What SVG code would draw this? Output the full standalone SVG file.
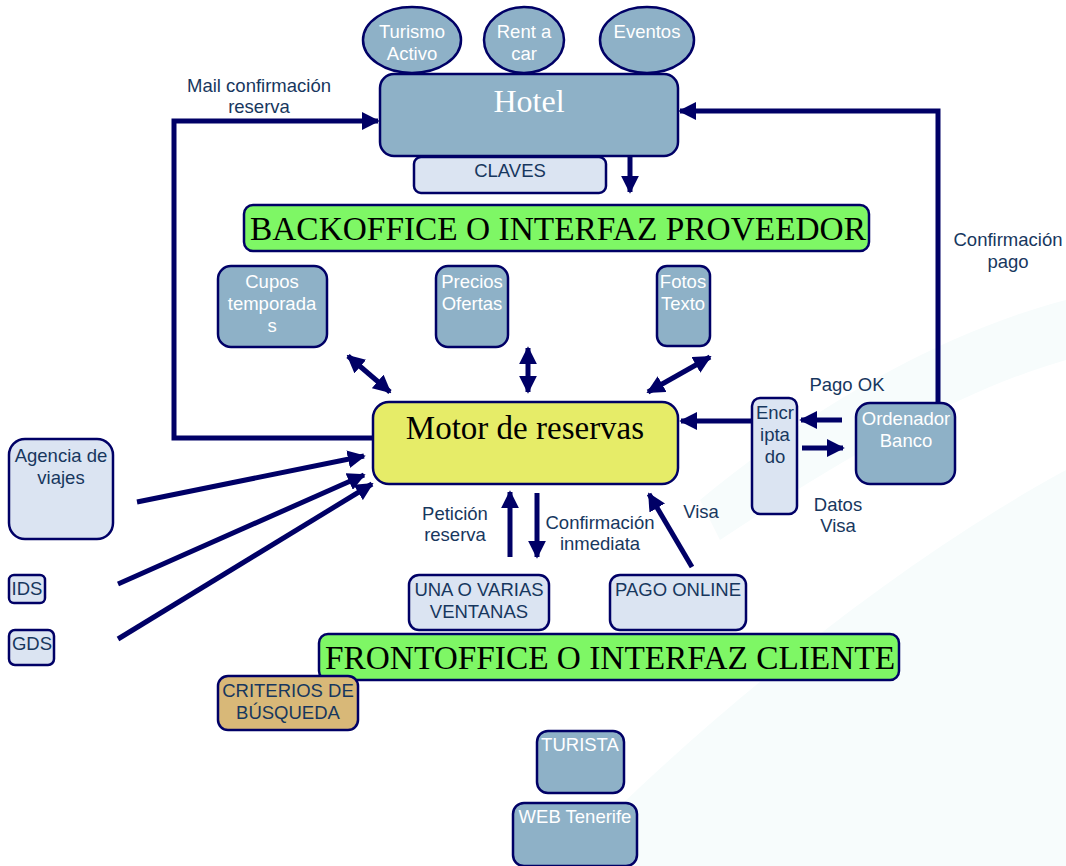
<svg xmlns="http://www.w3.org/2000/svg" width="1066" height="866" viewBox="0 0 1066 866">
<defs>
<marker id="ah" viewBox="0 0 10 10" refX="9" refY="5" markerWidth="18" markerHeight="18" markerUnits="userSpaceOnUse" orient="auto-start-reverse">
<path d="M0,0 L10,5 L0,10 Z" fill="#000066"/>
</marker>
</defs>
<style>
.bg{fill:#f7fcfc}
.dark{fill:#8eb1c7;stroke:#000066;stroke-width:2.5}
.light{fill:#dbe4f2;stroke:#000066;stroke-width:2.5}
.green{fill:#7ef765;stroke:#000066;stroke-width:2.5}
.yellow{fill:#e6ec68;stroke:#000066;stroke-width:2.5}
.tan{fill:#d8b878;stroke:#000066;stroke-width:2.5}
.w{font-family:"Liberation Sans",Arial,sans-serif;font-size:18.5px;fill:#ffffff;text-anchor:middle}
.n{font-family:"Liberation Sans",Arial,sans-serif;font-size:18.5px;fill:#17375e;text-anchor:middle}
.big{font-family:"Liberation Serif","Times New Roman",serif;font-size:34px;fill:#000000;text-anchor:middle}
.conn{stroke:#000066;stroke-width:5;fill:none}
</style>
<rect width="1066" height="866" fill="#ffffff"/>
<path class="bg" d="M560,866 C700,720 900,560 1066,470 L1066,866 Z"/>
<path class="bg" d="M700,500 C820,400 950,330 1066,300 L1066,360 C960,390 840,460 720,540 Z"/>

<g id="turismo-activo"><ellipse class="dark" cx="412" cy="40" rx="49" ry="33"/><text class="w" x="412" y="38">Turismo</text><text class="w" x="412" y="60">Activo</text></g>
<g id="rent-a-car"><ellipse class="dark" cx="524" cy="40" rx="40" ry="33"/><text class="w" x="524" y="38">Rent a</text><text class="w" x="524" y="60">car</text></g>
<g id="eventos"><ellipse class="dark" cx="647" cy="40" rx="47" ry="33"/><text class="w" x="647" y="38">Eventos</text></g>

<g id="hotel"><rect class="dark" x="380" y="74" width="298" height="82" rx="14"/><text x="529" y="112" font-family="'Liberation Serif','Times New Roman',serif" font-size="32" fill="#ffffff" text-anchor="middle">Hotel</text></g>
<g id="claves"><rect class="light" x="414" y="157" width="192" height="36" rx="7"/><text class="n" x="510" y="177">CLAVES</text></g>

<g id="backoffice"><rect class="green" x="244" y="205" width="625" height="46" rx="9"/><text class="big" x="558" y="240" textLength="616" lengthAdjust="spacingAndGlyphs">BACKOFFICE O INTERFAZ PROVEEDOR</text></g>

<g id="cupos"><rect class="dark" x="218" y="266" width="109" height="81" rx="13"/><text class="w" x="272" y="288">Cupos</text><text class="w" x="272" y="310">temporada</text><text class="w" x="272" y="332">s</text></g>
<g id="precios"><rect class="dark" x="436" y="266" width="72" height="81" rx="12"/><text class="w" x="472" y="288">Precios</text><text class="w" x="472" y="310">Ofertas</text></g>
<g id="fotos"><rect class="dark" x="657" y="266" width="53" height="80" rx="10"/><text class="w" x="683" y="288">Fotos</text><text class="w" x="683" y="310">Texto</text></g>

<g id="motor"><rect class="yellow" x="373" y="402" width="305" height="82" rx="16"/><text x="525" y="439" font-family="'Liberation Serif','Times New Roman',serif" font-size="33" fill="#000000" text-anchor="middle">Motor de reservas</text></g>

<g id="encriptado"><rect class="light" x="752" y="398" width="45" height="116" rx="8"/><text class="n" x="775" y="419">Encr</text><text class="n" x="775" y="441">ipta</text><text class="n" x="775" y="463">do</text></g>
<g id="ordenador"><rect class="dark" x="856" y="403" width="99" height="81" rx="14"/><text class="w" x="906" y="425">Ordenador</text><text class="w" x="906" y="447">Banco</text></g>

<g id="agencia"><rect class="light" x="9" y="439" width="104" height="100" rx="16"/><text class="n" x="61" y="462">Agencia de</text><text class="n" x="61" y="484">viajes</text></g>
<g id="ids"><rect class="light" x="9" y="575" width="36" height="28" rx="5"/><text class="n" x="27" y="595">IDS</text></g>
<g id="gds"><rect class="light" x="9" y="630" width="45" height="35" rx="6"/><text class="n" x="32" y="650">GDS</text></g>

<g id="ventanas"><rect class="light" x="409" y="575" width="140" height="55" rx="10"/><text class="n" x="479" y="596">UNA O VARIAS</text><text class="n" x="479" y="618">VENTANAS</text></g>
<g id="pago-online"><rect class="light" x="610" y="575" width="136" height="55" rx="10"/><text class="n" x="678" y="596">PAGO ONLINE</text></g>

<g id="frontoffice"><rect class="green" x="319" y="634" width="580" height="46" rx="9"/><text class="big" x="610" y="669" textLength="570" lengthAdjust="spacingAndGlyphs">FRONTOFFICE O INTERFAZ CLIENTE</text></g>
<g id="criterios"><rect class="tan" x="218" y="676" width="140" height="54" rx="10"/><text class="n" x="288" y="697">CRITERIOS DE</text><text class="n" x="288" y="719">BÚSQUEDA</text></g>

<g id="turista"><rect class="dark" x="537" y="731" width="87" height="62" rx="11"/><text class="w" x="580" y="751">TURISTA</text></g>
<g id="web-tenerife"><rect class="dark" x="513" y="803" width="124" height="63" rx="11"/><text class="w" x="575" y="823">WEB Tenerife</text></g>

<g id="connectors">
<path class="conn" d="M630,157 L630,192" marker-end="url(#ah)"/>
<path class="conn" d="M373,438 L174,438 L174,121 L378,121" marker-end="url(#ah)"/>
<path class="conn" d="M938,403 L938,111 L680,111" marker-end="url(#ah)"/>
<path class="conn" d="M348,356 L390,392" marker-start="url(#ah)" marker-end="url(#ah)"/>
<path class="conn" d="M528,348 L528,392" marker-start="url(#ah)" marker-end="url(#ah)"/>
<path class="conn" d="M710,357 L648,392" marker-start="url(#ah)" marker-end="url(#ah)"/>
<path class="conn" d="M752,421 L681,421" marker-end="url(#ah)"/>
<path class="conn" d="M842,420 L801,420" marker-end="url(#ah)"/>
<path class="conn" d="M802,448 L843,448" marker-end="url(#ah)"/>
<path class="conn" d="M137,502 L364,456" marker-end="url(#ah)"/>
<path class="conn" d="M118,584 L364,475" marker-end="url(#ah)"/>
<path class="conn" d="M118,639 L372,484" marker-end="url(#ah)"/>
<path class="conn" d="M510,557 L510,492" marker-end="url(#ah)"/>
<path class="conn" d="M537,493 L537,557" marker-end="url(#ah)"/>
<path class="conn" d="M692,567 L649,494" marker-end="url(#ah)"/>
<text class="n" x="259" y="92">Mail confirmación</text><text class="n" x="259" y="113">reserva</text>
<text class="n" x="1008" y="246">Confirmación</text><text class="n" x="1008" y="268">pago</text>
<text class="n" x="847" y="391">Pago OK</text>
<text class="n" x="838" y="511">Datos</text><text class="n" x="838" y="532">Visa</text>
<text class="n" x="455" y="520">Petición</text><text class="n" x="455" y="541">reserva</text>
<text class="n" x="600" y="529">Confirmación</text><text class="n" x="600" y="550">inmediata</text>
<text class="n" x="701" y="518">Visa</text>
</g>
</svg>
